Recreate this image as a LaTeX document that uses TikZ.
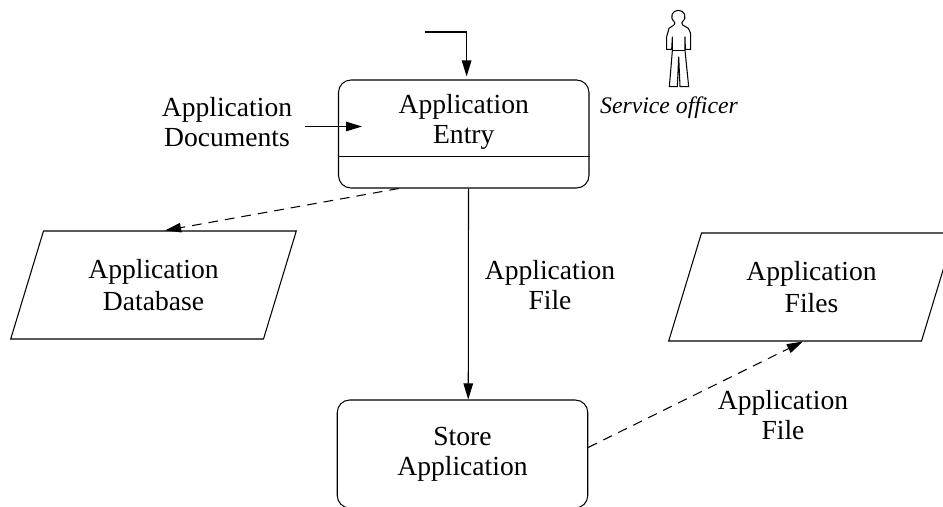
\documentclass[tikz,border=0pt]{standalone}
\usepackage{fontspec}
\setmainfont{Liberation Serif}
\usetikzlibrary{shapes.geometric, arrows.meta, calc}
\begin{document}
\begin{tikzpicture}[
        >={Triangle[length=3.2mm,width=1.9mm]},
        every node/.style={font=\fontsize{15.7}{17}\selectfont, align=center},
        taskbox/.style={draw, rounded corners=0.25cm, minimum width=5.01cm, minimum height=2.16cm, line width=0.6pt},
        datastore/.style={draw, trapezium, trapezium stretches=true, trapezium left angle=71.6, trapezium right angle=108.4, minimum width=5.72cm, minimum height=2.16cm, line width=0.6pt},
        flowline/.style={->, line width=0.6pt},
        dashline/.style={->, line width=0.6pt, dash pattern=on 5.5pt off 4pt}
    ]
        \path[use as bounding box, clip] (0,0) rectangle (18.86,10.14);

        % Tareas
        \node[taskbox, text depth=0.6cm] (entry) at (9.275, 7.46) {Application\\Entry};
        \node[taskbox] (store) at (9.25, 1.06) {Store\\Application};
        \draw[line width=0.6pt] (entry.west |- 0,7.01) coordinate (divL) -- (entry.east |- divL);

        % Almacenes de datos
        \node[datastore] (database) at (3.07, 4.44) {Application\\[1.5pt]Database};
        \node[datastore] (files) at (16.23, 4.40) {Application\\[1.5pt]Files};

        % Etiquetas
        \node (doclabel) at (4.54, 7.69) {Application\\Documents};
        \node (filelabel) at (11.0, 4.44) {Application\\File};
        \node (outlabel) at (15.66, 1.84) {Application\\File};
        \node[font=\fontsize{13.5}{15}\selectfont\itshape] (officer) at (13.38, 7.99) {Service officer};

        % Entradas libres
        \coordinate (topin) at (8.5, 9.5);
        \coordinate (docin) at (7.24, 7.61);

        % Flechas
        \draw[flowline, shorten >=1.7pt] (topin) -| (entry.87.6);
        \draw[flowline, shorten <=4pt] (doclabel.east |- docin) -- (docin);
        \draw[flowline] (entry.-85.8) -- (store.84.5);
        \draw[dashline] (entry.-140) -- (database.78);
        \draw[dashline] (store.3.6) -- (files.-99.8);

        % Persona
        \begin{scope}[shift={(12cm,10.14cm)}, x=0.0066667cm, y=-0.0066667cm, line width=0.6pt]
            \draw (225,68) .. controls (205,50) and (218,31) .. (235,31) .. controls (252,31) and (265,50) .. (245,68);
            \draw (225,68) -- (222,75) -- (207,85) -- (200,110) -- (200,148) -- (215,148) -- (217,110) -- (217,152) -- (208,260) -- (232,260) -- (236,170) -- (240,260) -- (266,260) -- (255,152) -- (255,110) -- (256,148) -- (272,148) -- (272,100) -- (265,85) -- (248,75) -- (245,68);
            \draw (217,152) -- (255,152);
        \end{scope}
    \end{tikzpicture}
\end{document}
